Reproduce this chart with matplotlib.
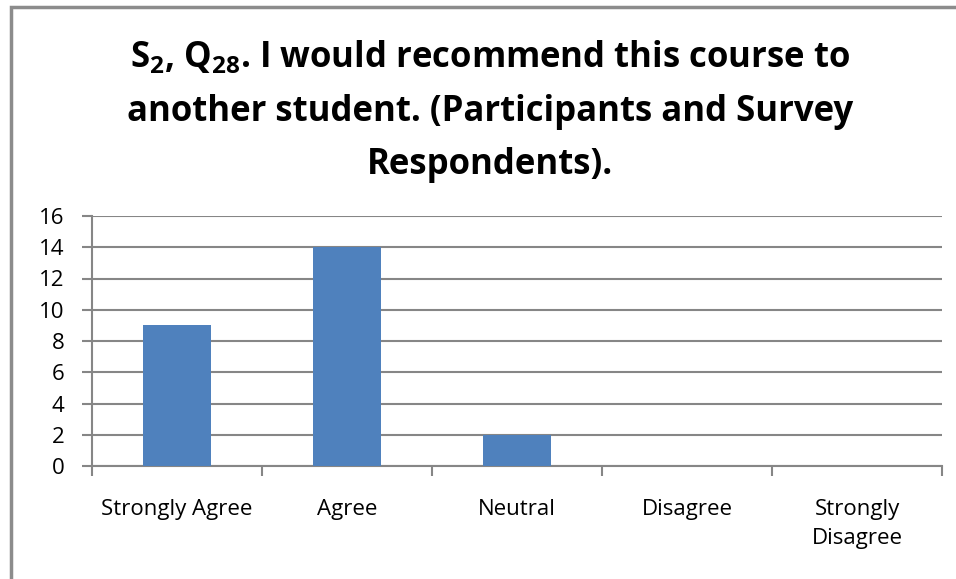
import matplotlib
matplotlib.use("Agg")
import matplotlib.pyplot as plt
from matplotlib.patches import Rectangle

categories = ["Strongly Agree", "Agree", "Neutral", "Disagree", "Strongly\nDisagree"]
values = [9, 14, 2, 0, 0]
yticks = [0, 2, 4, 6, 8, 10, 12, 14, 16]

plt.rcParams['font.family'] = ['Open Sans', 'DejaVu Sans']
plt.rcParams['mathtext.fontset'] = 'custom'
plt.rcParams['mathtext.rm'] = 'Open Sans:bold'
plt.rcParams['mathtext.it'] = 'Open Sans:bold'
plt.rcParams['mathtext.bf'] = 'Open Sans:bold'

fig = plt.figure(figsize=(9.56, 5.79), dpi=100)
W, H = 956, 579
ax = fig.add_axes([92 / W, 1 - 466 / H, (942 - 92) / W, (466 - 216) / H])

grid_c = '#868686'
x = list(range(len(categories)))
ax.bar(x, values, width=0.4, color='#4F81BD', zorder=3)
ax.set_xlim(-0.5, len(categories) - 0.5)
ax.set_ylim(0, 16)
ax.set_yticks(yticks)
ax.set_yticklabels([str(v) for v in yticks], fontsize=16)
ax.yaxis.grid(True, color=grid_c, linewidth=1.5, zorder=0)
ax.set_axisbelow(True)

ax.set_xticks([i - 0.5 for i in range(len(categories) + 1)], minor=False)
ax.set_xticklabels([])
ax.set_xticks(x, minor=True)
ax.set_xticklabels(categories, minor=True, fontsize=16, linespacing=1.45)
ax.tick_params(axis='x', which='minor', length=0, pad=24)
ax.tick_params(axis='x', which='major', length=7, width=1.5, color=grid_c, direction='out')
ax.tick_params(axis='y', length=7, width=1.5, color=grid_c, pad=13)

for s in ['top', 'right']:
    ax.spines[s].set_visible(False)
for s in ['left', 'bottom']:
    ax.spines[s].set_color(grid_c)
    ax.spines[s].set_linewidth(1.5)

title = ("S$_{2}$, Q$_{28}$. I would recommend this course to\n"
         "another student. (Participants and Survey\n"
         "Respondents).")
fig.text(490 / W, 1 - 111 / H, title, ha='center', va='center', fontsize=25,
         fontweight='bold', linespacing=1.65)

fig.patches.append(Rectangle((11 / W, -0.05), 1.2, 1 - 7 / H + 0.05, transform=fig.transFigure,
                             fill=False, edgecolor='#8c8c8c', linewidth=2.5))

fig.savefig('out.png', dpi=100)
